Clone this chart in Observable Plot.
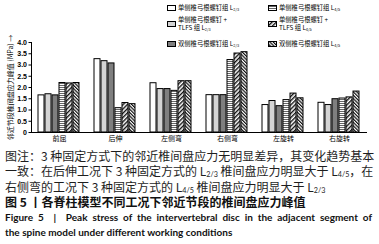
<!DOCTYPE html>
<html>
<head>
<meta charset="utf-8">
<script src="https://cdn.jsdelivr.net/npm/d3@7"></script>
<script src="https://cdn.jsdelivr.net/npm/@observablehq/plot@0.6"></script>
<style>
  html, body { margin: 0; padding: 0; background: #fff; }
  body { width: 379px; height: 244px; overflow: hidden; position: relative; font-family: "Noto Sans CJK SC", sans-serif; }
  #chart { position: relative; height: 148px; }
  #legend { position: absolute; left: 0; top: 0; width: 379px; height: 50px; font-size: 6.3px; color: #000; line-height: 8px; }
  .item { position: absolute; display: flex; align-items: center; }
  .item svg { margin-right: 2px; flex: none; }
  .item sub { font-size: 62%; line-height: 0; vertical-align: -0.35em; }
  #cap sub { font-family: Lato, sans-serif; font-size: 60%; line-height: 0; vertical-align: baseline; position: relative; top: 0.15em; }
  #cap { position: absolute; left: 5px; top: 148px; width: 367px; font-size: 12px; line-height: 15.4px; color: #1e1e1e; }
  #cap > div { white-space: nowrap; }
  #cap .j { text-align: justify; text-align-last: justify; }
  #cap .b { font-weight: bold; color: #111; }
  #cap .en { font-family: Lato, "Open Sans", sans-serif; font-size: 10px; }
</style>
</head>
<body>
<svg width="0" height="0" style="position:absolute">
  <defs>
    <pattern id="pH" patternUnits="userSpaceOnUse" width="4" height="2">
      <rect width="4" height="2" fill="#fff"/>
      <rect y="1" width="4" height="1" fill="#666"/>
    </pattern>
    <pattern id="pD1" patternUnits="userSpaceOnUse" width="3" height="3" patternTransform="rotate(45)">
      <rect width="3" height="3" fill="#fff"/>
      <rect width="1.4" height="3" fill="#111"/>
    </pattern>
    <pattern id="pD2" patternUnits="userSpaceOnUse" width="2.4" height="2.4" patternTransform="rotate(-45)">
      <rect width="2.4" height="2.4" fill="#fff"/>
      <rect width="1.2" height="2.4" fill="#111"/>
    </pattern>
  </defs>
</svg>
<div id="chart"></div>
<div id="legend"></div>
<div id="cap">
  <div class="j">图注：3 种固定方式下的邻近椎间盘应力无明显差异，其变化趋势基本</div>
  <div class="j">一致：在后伸工况下 3 种固定方式的 L<sub>2/3</sub> 椎间盘应力明显大于 L<sub>4/5</sub>，在</div>
  <div>右侧弯的工况下 3 种固定方式的 L<sub>4/5</sub> 椎间盘应力明显大于 L<sub>2/3</sub></div>
  <div class="b">图 5 丨各脊柱模型不同工况下邻近节段的椎间盘应力峰值</div>
  <div class="b en j">Figure 5 &nbsp;|&nbsp; Peak stress of the intervertebral disc in the adjacent segment of</div>
  <div class="b en">the spine model under different working conditions</div>
</div>
<script>
const categories = ["前屈", "后伸", "左侧弯", "右侧弯", "左旋转", "右旋转"];
const series = [
  "单侧椎弓根螺钉组 L2/3",
  "单侧椎弓根螺钉 + TLFS 组 L2/3",
  "双侧椎弓根螺钉组 L2/3",
  "单侧椎弓根螺钉组 L4/5",
  "单侧椎弓根螺钉 + TLFS 组 L4/5",
  "双侧椎弓根螺钉组 L4/5"
];
const uniL23 = [1.65, 3.26, 2.19, 1.66, 1.22, 1.32];
const tlfsL23 = [1.70, 3.17, 1.93, 1.66, 1.40, 1.22];
const bilL23 = [1.65, 3.07, 1.93, 1.66, 1.17, 1.48];
const uniL45 = [2.20, 1.08, 1.85, 3.22, 1.44, 1.51];
const tlfsL45 = [2.18, 1.31, 2.28, 3.51, 1.73, 1.56];
const bilL45 = [2.20, 1.26, 2.28, 3.57, 1.52, 1.82];
const yTicks = [0, 0.5, 1.0, 1.5, 2.0, 2.5, 3.0, 3.5, 4.0];
const yLabel = "邻近节段椎间盘应力峰值 (MPa)";

const fills = ["#ffffff", "#d4d4d4", "#7f7f7f", "url(#pH)", "url(#pD1)", "url(#pD2)"];
const allValues = [uniL23, tlfsL23, bilL23, uniL45, tlfsL45, bilL45];
const data = [];
categories.forEach((c, i) => series.forEach((s, j) => data.push({cat: c, series: s, value: allValues[j][i]})));

const chart = Plot.plot({
  width: 379,
  height: 148,
  marginLeft: 30,
  marginRight: 11,
  marginTop: 42,
  marginBottom: 16,
  style: {fontSize: "7px", fontFamily: "'Noto Sans CJK SC', sans-serif", color: "#000", background: "transparent", overflow: "visible"},
  fx: {domain: categories, padding: 0, label: null, tickSize: 0, tickPadding: 4, fontSize: "7.5px"},
  x: {domain: series, paddingInner: 0.12, paddingOuter: 0.88, axis: null},
  y: {domain: [0, 4], ticks: yTicks, tickFormat: d => d === 0 ? "0" : d.toFixed(1), label: yLabel, labelAnchor: "center", labelOffset: 23, tickSize: 2.5, tickPadding: 2, line: true},
  color: {domain: series, range: fills},
  marks: [
    Plot.rectY(data, {fx: "cat", x: "series", y: "value", fill: "series", stroke: "#000", strokeWidth: 1}),
    Plot.ruleY([0], {stroke: "#000", strokeWidth: 1})
  ]
});
d3.select(chart).selectAll("g[aria-label='y-axis tick label'] text").style("font-weight", "bold").style("font-family", "'Liberation Sans', Arial, sans-serif");
document.getElementById("chart").appendChild(chart);

// legend
const legendPos = [
  {x: 167, y: 8}, {x: 167, y: 24}, {x: 167, y: 44},
  {x: 268, y: 8}, {x: 268, y: 24}, {x: 268, y: 44}
];
const legend = d3.select("#legend");
series.forEach((s, i) => {
  const p = legendPos[i];
  const item = legend.append("div").attr("class", "item").style("left", p.x + "px").style("top", (p.y - 8) + "px").style("height", "16px");
  const sv = item.append("svg").attr("width", 9).attr("height", 6);
  sv.append("rect").attr("x", 0.5).attr("y", 0.5).attr("width", 8).attr("height", 5).attr("fill", fills[i]).attr("stroke", "#000").attr("stroke-width", 1);
  const m = s.match(/^(.*)L(\d\/\d)$/);
  const txt = item.append("div");
  const main = m[1];
  if (main.includes("+ TLFS")) {
    const parts = main.split("+ ");
    txt.html(parts[0] + "+<br>" + parts[1] + "L<sub>" + m[2] + "</sub>");
  } else {
    txt.html(main + "L<sub>" + m[2] + "</sub>");
  }
});
</script>
</body>
</html>
